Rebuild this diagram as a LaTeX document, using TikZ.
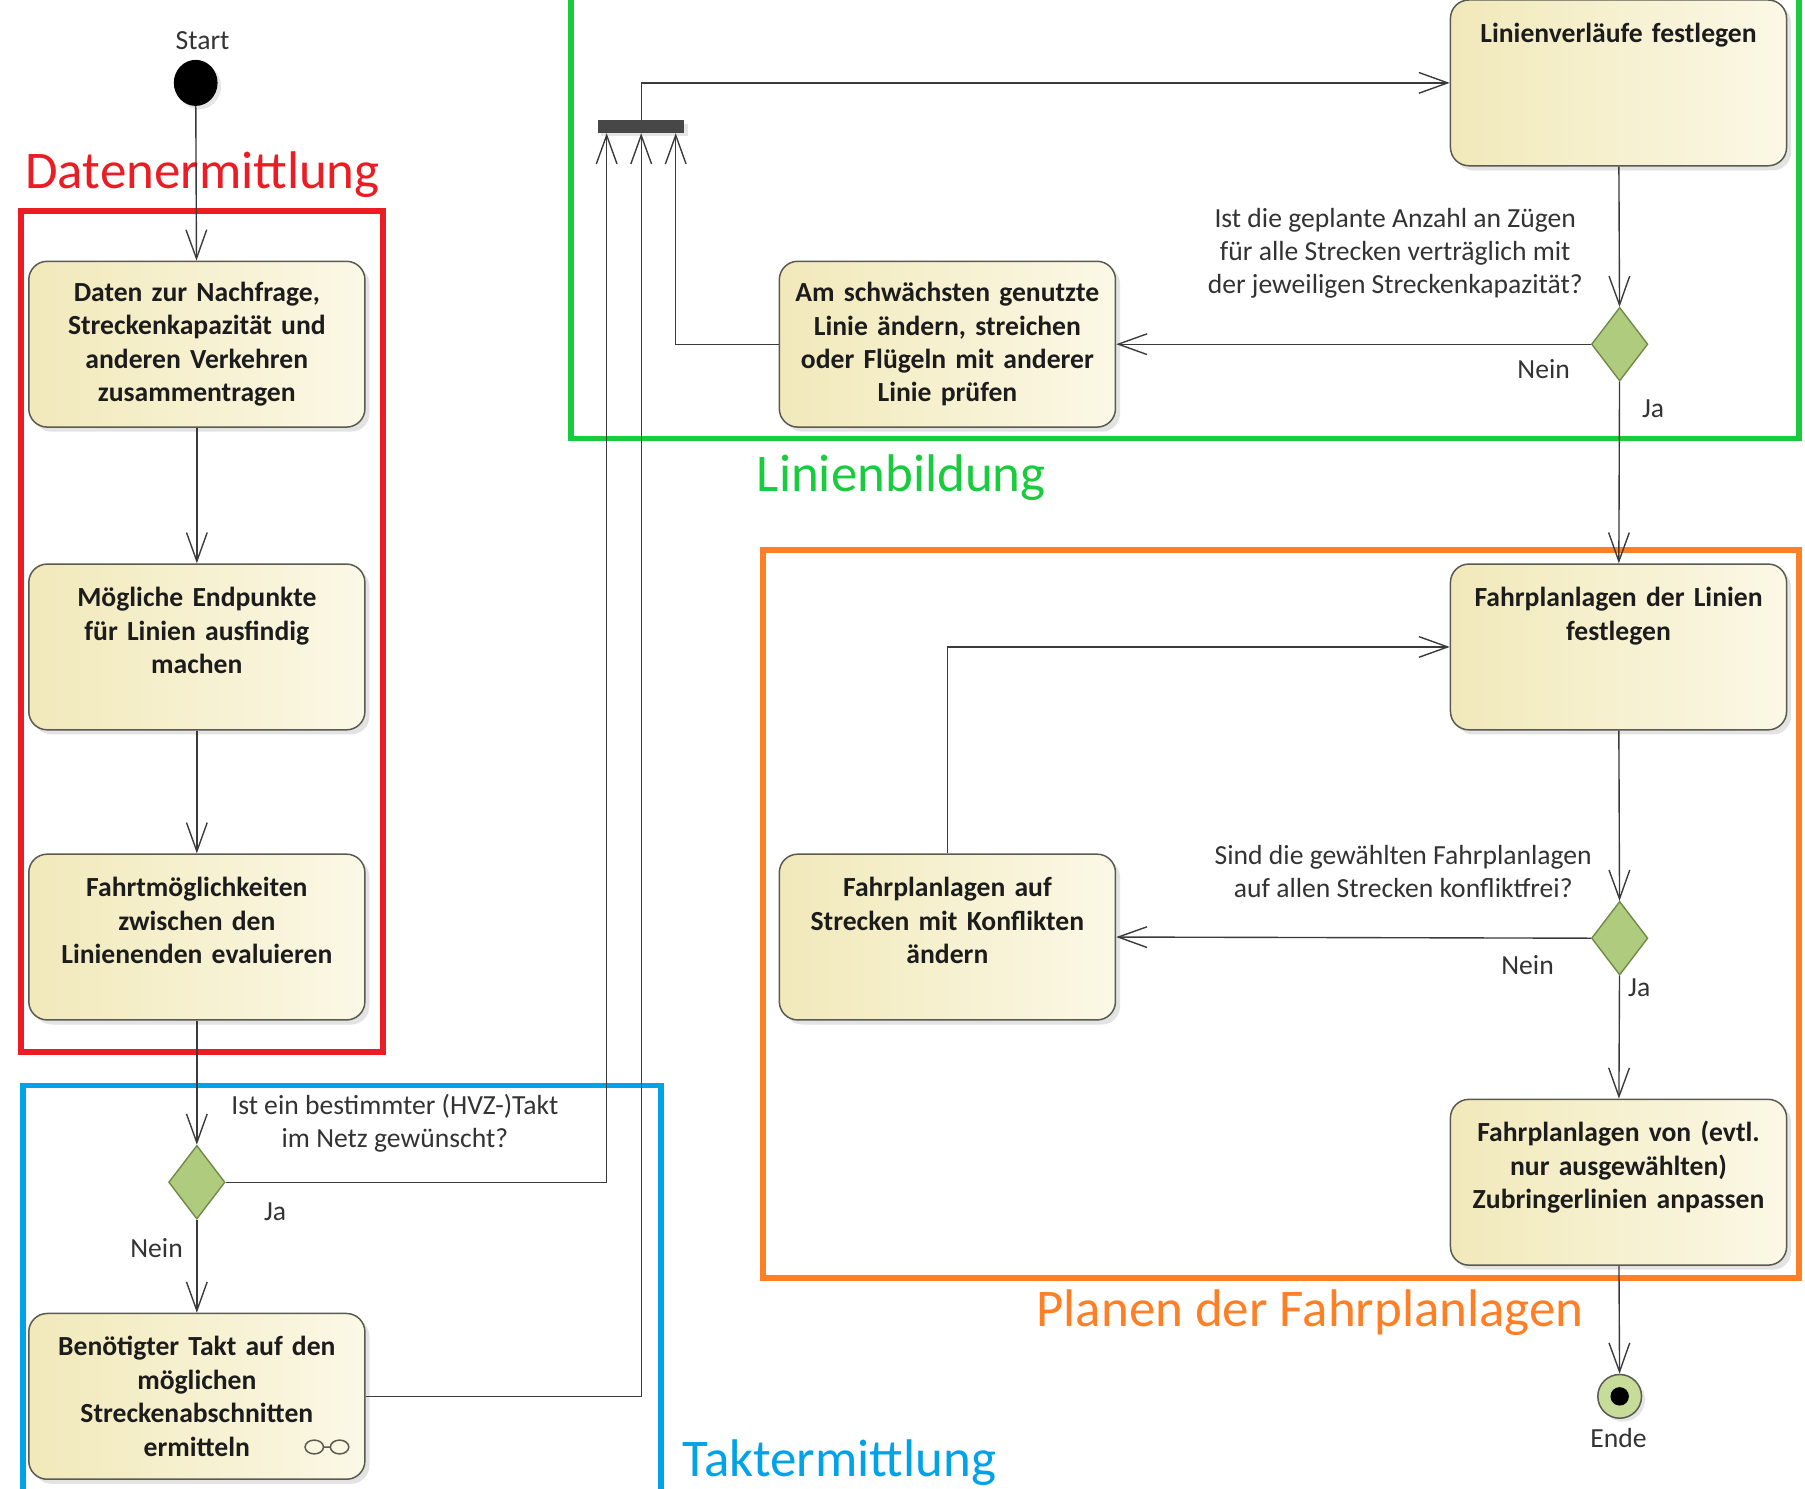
\documentclass[tikz,border=0pt]{standalone}
\usepackage{fontspec}
\setmainfont{Carlito}
\usetikzlibrary{arrows.meta,shapes.geometric,shadows,calc}
\definecolor{actL}{HTML}{F1E9BA}
\definecolor{actR}{HTML}{FBF8E6}
\definecolor{actB}{HTML}{5A5A50}
\definecolor{decF}{HTML}{AFCB7E}
\definecolor{decB}{HTML}{6F8A45}
\definecolor{endF}{HTML}{C6DC98}
\definecolor{lineC}{HTML}{3A3A3A}
\definecolor{txtC}{HTML}{1C1C1C}
\definecolor{qC}{HTML}{333333}
\definecolor{fRed}{HTML}{EC1C24}
\definecolor{fGreen}{HTML}{19CC3D}
\definecolor{fOrange}{HTML}{FF7F27}
\definecolor{fBlue}{HTML}{00A2E8}
\newcommand\boxfont{\fontsize{24}{29}\selectfont\bfseries\color{txtC}}
\newcommand\qfont{\fontsize{24}{29}\selectfont\color{qC}}
\newcommand\secfont{\fontsize{46}{55}\selectfont}
\newcommand\tb[1]{\parbox[c][144pt][t]{280pt}{\centering\rule{0pt}{37pt}#1\par}}
\begin{document}
\begin{tikzpicture}[x=1pt,y=-1pt,
  act/.style={draw=actB, line width=1.3pt, rounded corners=16pt,
    left color=actL, right color=actR, minimum width=292pt, minimum height=144pt,
    inner sep=0pt, text width=280pt, align=center, font=\boxfont,
    drop shadow={shadow xshift=4pt, shadow yshift=-4pt, opacity=0.22}},
  dec/.style={diamond, draw=decB, line width=1.2pt, fill=decF, minimum width=49pt,
    minimum height=64pt, inner sep=0pt},
  flow/.style={draw=lineC, line width=1.2pt, -{Straight Barb[length=25pt,width=18pt]}},
  conn/.style={draw=lineC, line width=1.2pt},
  frame/.style={line width=5pt},
  qtxt/.style={font=\qfont, align=center, inner sep=0pt},
  small/.style={font=\qfont, inner sep=0pt},
  sec/.style={font=\secfont, inner sep=0pt, anchor=base}]

\useasboundingbox (0,0) rectangle (1568,1293);
\fill[white] (0,0) rectangle (1568,1293);
\clip (0,0) rectangle (1568,1293);

% frames
\draw[frame, fRed] (18,183) rectangle (333,914);
\draw[frame, fGreen] (496,-20) rectangle (1563,381);
\draw[frame, fOrange] (663,478) rectangle (1563,1110);
\draw[frame, fBlue] (20,943) rectangle (574,1320);

% section labels
\node[sec, text=fRed] (lDat) at (176,164) {Datenermittlung};
\node[sec, text=fGreen] (lLin) at (783,427) {Linienbildung};
\node[sec, text=fOrange] (lPlan) at (1138,1152) {Planen der Fahrplanlagen};
\node[sec, text=fBlue] (lTakt) at (729,1283) {Taktermittlung};

% start / end
\node[small] (lstart) at (176,35) {Start};
\node[ellipse, fill=black, minimum width=38pt, minimum height=40pt, inner sep=0pt,
  drop shadow={shadow xshift=3pt, shadow yshift=-3pt, opacity=0.2}] (start) at (170,72) {};
\node[circle, draw=actB, line width=1.3pt, fill=endF, minimum size=38pt, inner sep=0pt,
  drop shadow={shadow xshift=3pt, shadow yshift=-3pt, opacity=0.2}] (endn) at (1407,1213) {};
\fill[black] (endn.center) circle[radius=8pt];
\node[small] (lende) at (1406,1249) {Ende};

% activities
\node[act] (A1) at (171,299) {Daten zur Nachfrage,\\Streckenkapazität und\\anderen Verkehren\\zusammentragen};
\node[act] (A2) at (171,562) {\tb{Mögliche Endpunkte\\für Linien ausfindig\\machen}};
\node[act] (A3) at (171,814) {\tb{Fahrtmöglichkeiten\\zwischen den\\Linienenden evaluieren}};
\node[act] (A4) at (171,1213) {Benötigter Takt auf den\\möglichen\\Streckenabschnitten\\ermitteln};
\node[act] (B1) at (1406,72) {\tb{Linienverläufe festlegen}};
\node[act] (B2) at (823,299) {Am schwächsten genutzte\\Linie ändern, streichen\\oder Flügeln mit anderer\\Linie prüfen};
\node[act] (C1) at (1406,562) {\tb{Fahrplanlagen der Linien\\festlegen}};
\node[act] (C2) at (823,814) {\tb{Fahrplanlagen auf\\Strecken mit Konflikten\\ändern}};
\node[act] (C3) at (1406,1027) {\tb{Fahrplanlagen von (evtl.\\nur ausgewählten)\\Zubringerlinien anpassen}};

% subactivity symbol
\draw[actB, line width=1.3pt] (273,1257) ellipse[x radius=8pt, y radius=6pt]
  (295,1257) ellipse[x radius=8pt, y radius=6pt] (281,1257) -- (287,1257);

% decisions
\node[dec] (D1) at (171,1027) {};
\node[dec] (D2) at (1407,299) {};
\node[dec] (D3) at (1407,815) {};

% fork
\node[rectangle, fill=black!72, minimum width=75pt, minimum height=11pt, inner sep=0pt,
  drop shadow={shadow xshift=3pt, shadow yshift=-3pt, opacity=0.2}] (fork) at (557,110) {};

% connectors
\draw[flow] (start) -- (A1);
\draw[flow] (A1) -- (A2);
\draw[flow] (A2) -- (A3);
\draw[flow] (A3) -- (D1);
\draw[flow] (D1) -- (A4);
\draw[flow] (D1.east) -| ([xshift=-30pt]fork.south);
\draw[flow] (A4.east) -| (fork.south);
\draw[flow] (B2.west) -| ([xshift=30pt]fork.south);
\draw[flow] (fork.north) |- (B1.west);
\draw[flow] (B1) -- (D2);
\draw[flow] (D2.west) -- (B2.east);
\draw[flow] (D2) -- (C1);
\draw[flow] (C1) -- (D3);
\draw[flow] (D3.west) -- (C2.east);
\draw[flow] (D3) -- (C3);
\draw[flow] (C2.north) |- (C1.west);
\draw[flow] (C3) -- (endn);

% guards and questions
\node[qtxt] (q1) at (343,976) {Ist ein bestimmter (HVZ-)Takt\\im Netz gewünscht?};
\node[small] (j1) at (239,1053) {Ja};
\node[small] (n1) at (136,1084) {Nein};
\node[qtxt] (q2) at (1212,220) {Ist die geplante Anzahl an Zügen\\für alle Strecken verträglich mit\\der jeweiligen Streckenkapazität?};
\node[small] (n2) at (1341,321) {Nein};
\node[small] (j2) at (1436,355) {Ja};
\node[qtxt] (q3) at (1219,757) {Sind die gewählten Fahrplanlagen\\auf allen Strecken konfliktfrei?};
\node[small] (n3) at (1327,838) {Nein};
\node[small] (j3) at (1424,858) {Ja};
\end{tikzpicture}
\end{document}
